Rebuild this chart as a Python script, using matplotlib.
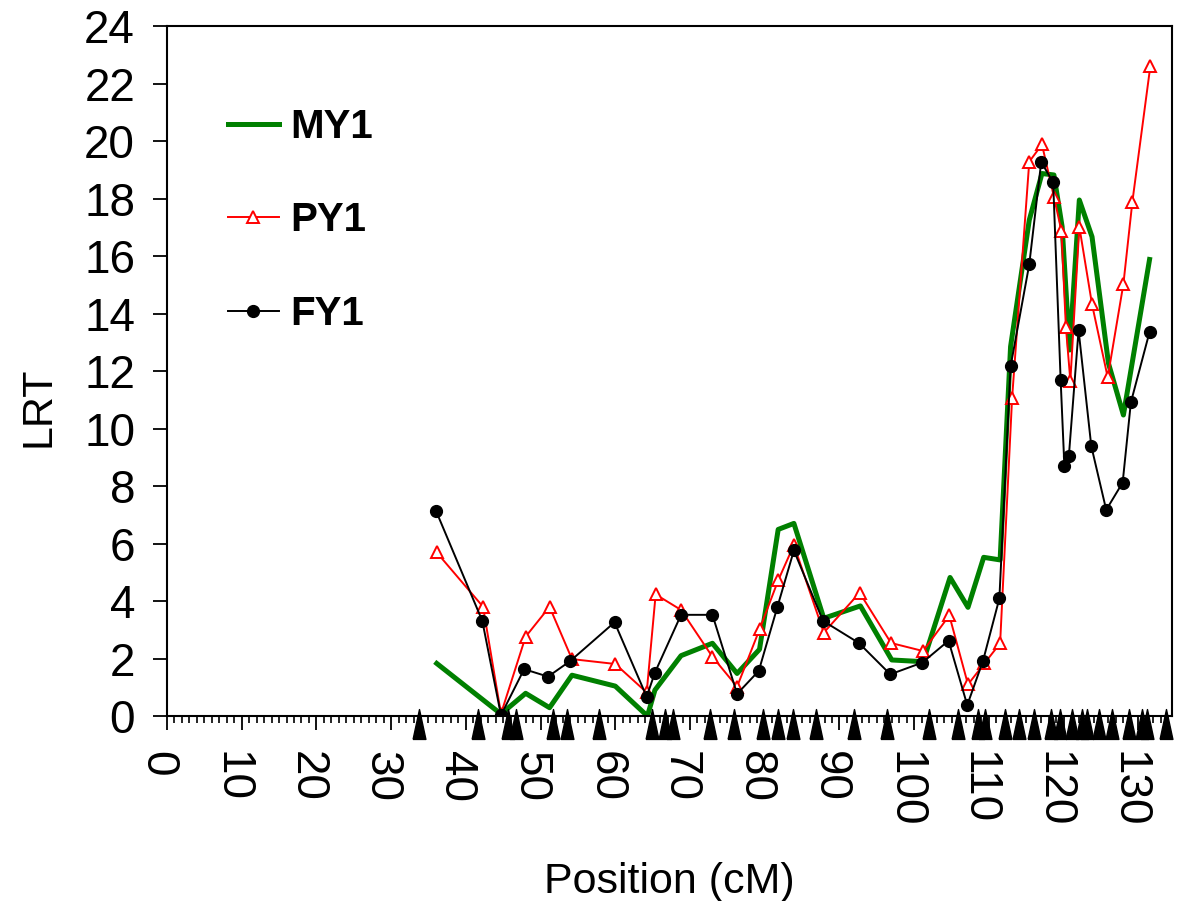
import numpy as np
import matplotlib
matplotlib.use('Agg')
import matplotlib.pyplot as plt
import matplotlib.transforms as mtransforms

plt.rcParams['font.family'] = ['Liberation Sans', 'DejaVu Sans']

# LRT profiles along the linkage group
my1_pos = [36.1, 44.7, 48.0, 51.2, 54.2, 60.0, 64.3, 65.3, 68.8, 73.0, 76.3, 79.3,
           81.8, 83.9, 87.9, 92.8, 97.0, 101.2, 104.8, 107.2, 109.3, 111.5, 112.9,
           115.4, 117.1, 118.7, 119.8, 120.8, 122.1, 123.8, 126.0, 128.0, 131.5]
my1_lrt = [1.83, 0.07, 0.79, 0.29, 1.42, 1.04, 0.0, 0.9, 2.1, 2.53, 1.48, 2.32,
           6.49, 6.70, 3.40, 3.83, 1.95, 1.89, 4.82, 3.78, 5.52, 5.43, 12.85,
           17.25, 18.87, 18.82, 17.02, 12.73, 17.95, 16.67, 12.27, 10.47, 15.88]

py1_pos = [36.1, 42.3, 44.7, 48.0, 51.2, 54.2, 60.0, 64.2, 65.4, 68.8, 73.0, 76.3,
           79.3, 81.8, 83.9, 87.9, 92.7, 96.9, 101.2, 104.7, 107.2, 109.4, 111.5,
           113.1, 115.4, 117.1, 118.7, 119.7, 120.3, 120.9, 122.1, 123.8, 125.9,
           128.0, 129.2, 131.6]
py1_lrt = [5.69, 3.80, 0.08, 2.76, 3.80, 1.98, 1.81, 0.82, 4.23, 3.69, 2.06, 1.02,
           3.01, 4.72, 5.95, 2.90, 4.29, 2.54, 2.26, 3.50, 1.10, 1.83, 2.53,
           11.05, 19.28, 19.88, 18.06, 16.88, 13.54, 11.66, 17.02, 14.32, 11.78,
           15.03, 17.89, 22.6]

fy1_pos = [36.0, 42.2, 44.7, 47.8, 51.0, 54.0, 59.9, 64.2, 65.3, 68.8, 73.0, 76.3,
           79.2, 81.7, 83.9, 87.8, 92.6, 96.8, 101.1, 104.6, 107.1, 109.2, 111.4,
           112.9, 115.4, 117.0, 118.6, 119.6, 120.1, 120.7, 122.0, 123.7, 125.7,
           127.9, 129.0, 131.5]
fy1_lrt = [7.14, 3.31, 0.03, 1.63, 1.37, 1.92, 3.26, 0.67, 1.51, 3.52, 3.52, 0.77,
           1.57, 3.80, 5.76, 3.31, 2.54, 1.45, 1.86, 2.62, 0.38, 1.91, 4.09,
           12.16, 15.71, 19.27, 18.56, 11.69, 8.70, 9.04, 13.42, 9.39, 7.17,
           8.12, 10.91, 13.36]

# marker loci on the map (cM)
markers = [33.7, 41.6, 45.7, 46.7, 51.6, 53.5, 57.8, 64.9, 66.6, 67.7, 72.7, 75.9,
           79.8, 81.8, 83.8, 86.9, 91.9, 96.3, 102.0, 105.9, 108.5, 109.5, 112.1,
           114.0, 116.0, 118.3, 119.5, 121.1, 122.4, 123.1, 124.8, 126.5, 128.8,
           130.5, 131.2, 133.7]

fig = plt.figure(figsize=(11.8, 9.01), dpi=100)
ax = fig.add_axes([0.1415, 0.2053, 0.8517, 0.7658])

ax.plot(my1_pos, my1_lrt, color='#008000', lw=3.6, label='MY1', zorder=2)
ax.plot(py1_pos, py1_lrt, color='red', lw=1.4, marker='^', ms=9, mfc='white',
        mec='red', mew=1.4, label='PY1', zorder=3)
ax.plot(fy1_pos, fy1_lrt, color='black', lw=1.4, marker='o', ms=8.5,
        label='FY1', zorder=4)

# tall narrow triangles under the axis for each marker
tri = [(-0.43, -1), (0.43, -1), (0, 1), (-0.43, -1)]
trans = mtransforms.blended_transform_factory(ax.transData, ax.transAxes)
ax.plot(markers, [-0.0115] * len(markers), ls='none', marker=tri, ms=21.5,
        color='black', transform=trans, clip_on=False, zorder=5)

ax.set_xlim(0, 134.5)
ax.set_ylim(0, 24)
ax.set_xticks(np.arange(0, 131, 10))
ax.set_xticks(np.arange(0, 135, 1), minor=True)
ax.set_yticks(np.arange(0, 25, 2))
ax.tick_params(axis='both', which='major', labelsize=33, width=1.3, length=10,
               direction='out')
ax.tick_params(axis='x', which='major', pad=15, labelrotation=270)
ax.tick_params(axis='y', which='major', pad=13)
ax.tick_params(axis='x', which='minor', width=1.2, length=5, direction='out')
shift = mtransforms.ScaledTranslation(-10 / 100, 0, fig.dpi_scale_trans)
for lab in ax.get_xticklabels():
    lab.set_verticalalignment('top')
    lab.set_horizontalalignment('center')
    lab.set_transform(lab.get_transform() + shift)
for sp in ax.spines.values():
    sp.set_linewidth(1.5)

ax.set_xlabel('Position (cM)', fontsize=31)
ax.set_ylabel('LRT', fontsize=31)
ax.xaxis.set_label_coords(0.5, -0.212)
ax.yaxis.set_label_coords(-0.108, 0.448)

leg = ax.legend(loc='upper left', bbox_to_anchor=(0.045, 0.905), frameon=False,
                prop={'size': 29, 'weight': 'bold'}, handlelength=1.25,
                handletextpad=0.3, labelspacing=1.38, borderaxespad=0)

fig.savefig('out.png', dpi=100)
